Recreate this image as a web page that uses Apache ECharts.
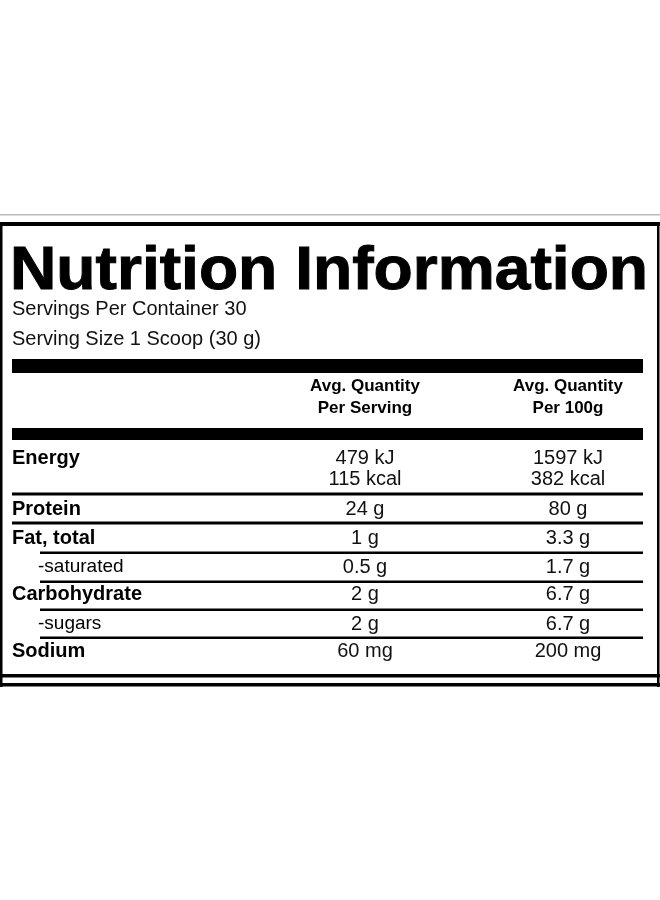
<!DOCTYPE html><html><head><meta charset="utf-8">
<script src="https://cdn.jsdelivr.net/npm/echarts@6/dist/echarts.min.js"></script>
<style>html,body{margin:0;background:#fff}#c{width:660px;height:900px}</style></head><body><div id="c"></div>
<script>
const title = "Nutrition Information";
const subtitles = ["Servings Per Container 30", "Serving Size 1 Scoop (30 g)"];
const headers = [["Avg. Quantity","Per Serving"],["Avg. Quantity","Per 100g"]];
const nutrients = ["Energy","Protein","Fat, total","-saturated","Carbohydrate","-sugars","Sodium"];
const perServing = ["479 kJ\n115 kcal","24 g","1 g","0.5 g","2 g","2 g","60 mg"];
const per100g = ["1597 kJ\n382 kcal","80 g","3.3 g","1.7 g","6.7 g","6.7 g","200 mg"];

const F = "Liberation Sans, Arial, sans-serif";
const rowY = [458,509,538,567,594,624,651];
const lineY = [494,523,553,582,610,638];
const g = [];
const rect=(x,y,w,h)=>g.push({type:'rect',shape:{x,y,width:w,height:h},style:{fill:'#000'}});
rect(0,214,660,1.5); g[g.length-1].style.fill='#bbb';
rect(0,222,660,4);
rect(0,222,2.5,465); rect(657,222,2.5,465);
g.push({type:'text',x:10,y:272,scaleX:1.035,style:{text:title,font:'bold 62px '+F,fill:'#000',stroke:'#000',lineWidth:1,textVerticalAlign:'middle'}});
subtitles.forEach((s,i)=>g.push({type:'text',x:12,y:309+i*30,style:{text:s,font:'20px '+F,fill:'#111',textVerticalAlign:'middle'}}));
rect(12,359,631,14);
headers.forEach((h,i)=>g.push({type:'text',x:[365,568][i],y:397,style:{text:h.join('\n'),font:'bold 17px '+F,fill:'#000',align:'center',verticalAlign:'middle',lineHeight:22}}));
rect(12,428,631,12);
nutrients.forEach((n,i)=>{
  const sub=n.startsWith('-');
  g.push({type:'text',x:sub?38:12,y:rowY[i],style:{text:n,font:(sub?'':'bold ')+(sub?'19px ':'20px ')+F,fill:'#000',verticalAlign:'middle'}});
  [perServing,per100g].forEach((arr,j)=>g.push({type:'text',x:[365,568][j],y:rowY[i]+(i===0?11:0),style:{text:arr[i],font:'20px '+F,fill:'#111',align:'center',verticalAlign:'middle',lineHeight:21}}));
});
lineY.forEach((y,i)=>{const sub=(i>=2);rect(sub?40:12,y-1.5,643-(sub?40:12),i<2?3:2.5);});
rect(0,674,660,3.5); rect(0,683,660,3.5);
const chart=echarts.init(document.getElementById('c'));
chart.setOption({animation:false,graphic:g});
</script></body></html>
